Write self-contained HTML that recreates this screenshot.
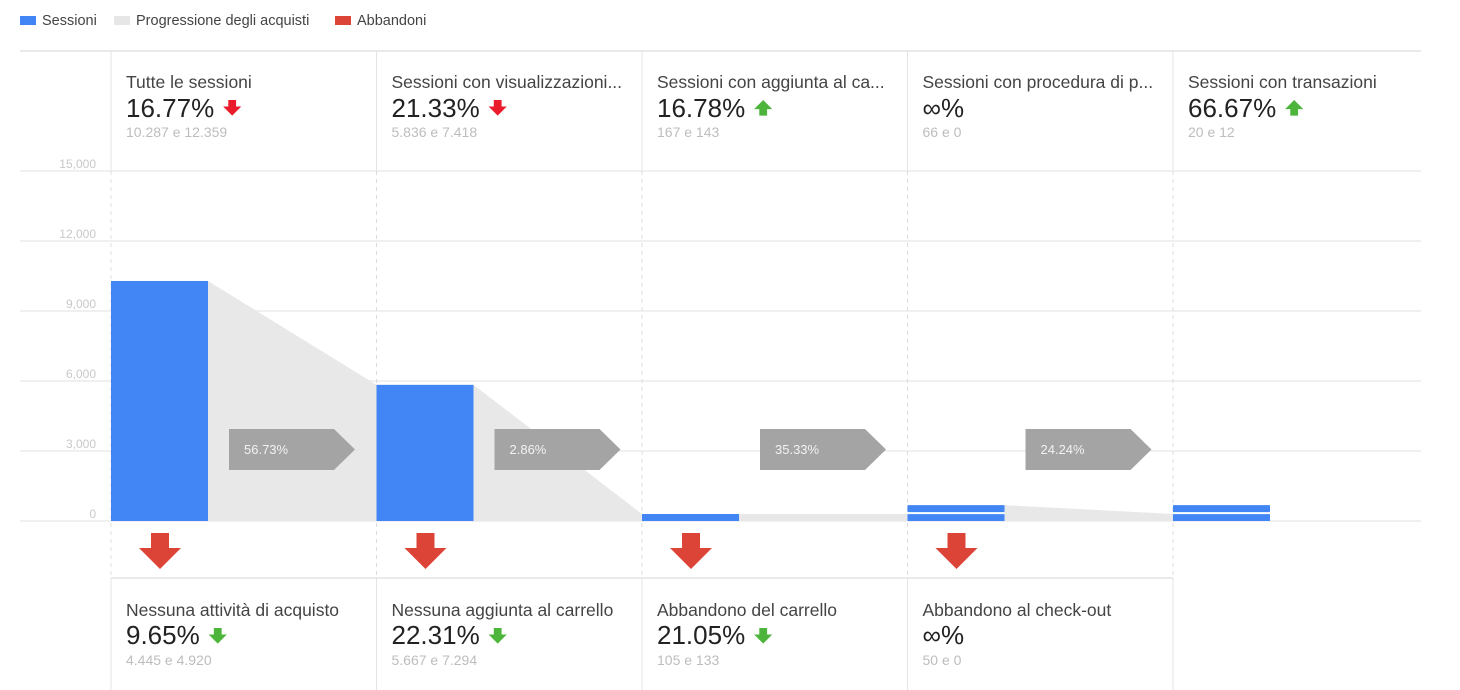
<!DOCTYPE html>
<html><head><meta charset="utf-8"><style>
body{margin:0;background:#fff;font-family:"Liberation Sans",sans-serif;}
svg{display:block}
</style></head><body>
<svg id="c" width="1460" height="690"></svg>
<script>
const stepNames=["Tutte le sessioni","Sessioni con visualizzazioni...","Sessioni con aggiunta al ca...","Sessioni con procedura di p...","Sessioni con transazioni"];
const stepPct=["16.77%","21.33%","16.78%","∞%","66.67%"];
const stepDir=["down","down","up","none","up"];
const stepSub=["10.287 e 12.359","5.836 e 7.418","167 e 143","66 e 0","20 e 12"];
const sessions=[10287,5836,300,680,680];
const progressEnd=[5836,300,300,300];
const progression=["56.73%","2.86%","35.33%","24.24%"];
const dropNames=["Nessuna attività di acquisto","Nessuna aggiunta al carrello","Abbandono del carrello","Abbandono al check-out"];
const dropPct=["9.65%","22.31%","21.05%","∞%"];
const dropDir=["down","down","down","none"];
const dropSub=["4.445 e 4.920","5.667 e 7.294","105 e 133","50 e 0"];
const yTicks=[0,3000,6000,9000,12000,15000];
const yTickLabels=["0","3,000","6,000","9,000","12,000","15,000"];

const svg=document.getElementById('c');const NS="http://www.w3.org/2000/svg";
function mk(t,a,txt,p){const el=document.createElementNS(NS,t);for(const k in a)el.setAttribute(k,a[k]);if(txt!=null)el.textContent=txt;(p||svg).appendChild(el);return el;}
const x0=111,colW=265.5,barW=97,base=521,yTop=171;
const y=v=>base-(v/15000)*(base-yTop);
const cx=i=>x0+i*colW;

let e;
e=mk('rect',{x:20,y:16,width:16,height:9,fill:'#4285f4'});
e=mk('text',{x:42,y:25,'font-size':14.5,fill:'#444'},'Sessioni');
e=mk('rect',{x:114,y:16,width:16,height:9,fill:'#e6e6e6'});
e=mk('text',{x:136,y:25,'font-size':14.5,fill:'#444'},'Progressione degli acquisti');
e=mk('rect',{x:335,y:16,width:16,height:9,fill:'#db4437'});
e=mk('text',{x:357,y:25,'font-size':14.5,fill:'#444'},'Abbandoni');

mk('line',{x1:20,x2:1421,y1:51,y2:51,stroke:'#e4e4e4','stroke-width':1.5});
yTicks.forEach((v,i)=>{
  e=mk('line',{x1:20,x2:1421,y1:y(v),y2:y(v),stroke:'#ebebeb','stroke-width':1.5});
  
  e=mk('text',{x:96,y:y(v)-3,'font-size':12,fill:'#c8c8c8','text-anchor':'end'},yTickLabels[i]);
  
});
for(let i=0;i<5;i++){
  const x=cx(i);
  mk('line',{x1:x,x2:x,y1:51,y2:171,stroke:'#e4e4e4','stroke-width':1});
  mk('line',{x1:x,x2:x,y1:171,y2:578,stroke:'#dcdcdc','stroke-dasharray':'4,4'});
  mk('line',{x1:x,x2:x,y1:578,y2:690,stroke:'#e4e4e4'});
}
mk('line',{x1:x0,x2:cx(4),y1:578,y2:578,stroke:'#e4e4e4','stroke-width':1.5});

for(let i=0;i<4;i++){
  e=mk('polygon',{points:`${cx(i)+barW},${y(sessions[i])} ${cx(i+1)},${y(progressEnd[i])} ${cx(i+1)},${base} ${cx(i)+barW},${base}`,fill:'#e8e8e8'});
  
}
sessions.forEach((v,i)=>{
  const h=base-y(v);
  e=mk('rect',{x:cx(i),y:y(v),width:barW,height:h,fill:'#4285f4'});
  
  if(h>12&&h<30) mk('line',{x1:cx(i),x2:cx(i)+barW,y1:base-h/2,y2:base-h/2,stroke:'#fff','stroke-width':2});
});
progression.forEach((p,i)=>{
  const x=cx(i)+118,yy=429;
  e=mk('polygon',{points:`${x},${yy} ${x+105},${yy} ${x+126},${yy+20.5} ${x+105},${yy+41} ${x},${yy+41}`,fill:'#a4a4a4'});
  
  mk('text',{x:x+15,y:yy+25,'font-size':13,fill:'#f2f2f2'},p);
});
function arrow(x,yy,dir,color,s){
  const d=dir==='down'?`M${x-3*s},${yy} h${6*s} v${5*s} h${4*s} l-${7*s},${7*s} l-${7*s},-${7*s} h${4*s}z`
    :`M${x-3*s},${yy+12*s} h${6*s} v-${5*s} h${4*s} l-${7*s},-${7*s} l-${7*s},${7*s} h${4*s}z`;
  return mk('path',{d,fill:color});
}
for(let i=0;i<5;i++){
  const x=cx(i)+15;
  e=mk('text',{x,y:88,'font-size':17.5,fill:'#444'},stepNames[i]);
  const t=mk('text',{x,y:117,'font-size':26,fill:'#222'},stepPct[i]);
  const w=t.getComputedTextLength();
  if(stepDir[i]!=='none'){e=arrow(x+w+18,100,stepDir[i],stepDir[i]==='down'?'#ea1c2c':'#4db53c',1.3);}
  e=mk('text',{x,y:137,'font-size':14,fill:'#bdbdbd'},stepSub[i]);
}
for(let i=0;i<4;i++){
  e=arrow(cx(i)+49,533,'down','#db4437',3);
  const x=cx(i)+15;
  e=mk('text',{x,y:616,'font-size':17.5,fill:'#444'},dropNames[i]);
  const t=mk('text',{x,y:644,'font-size':26,fill:'#222'},dropPct[i]);
  const w=t.getComputedTextLength();
  if(dropDir[i]!=='none'){e=arrow(x+w+18,628,'down','#4db53c',1.3);}
  e=mk('text',{x,y:665,'font-size':14,fill:'#bdbdbd'},dropSub[i]);
}
</script>
</body></html>
